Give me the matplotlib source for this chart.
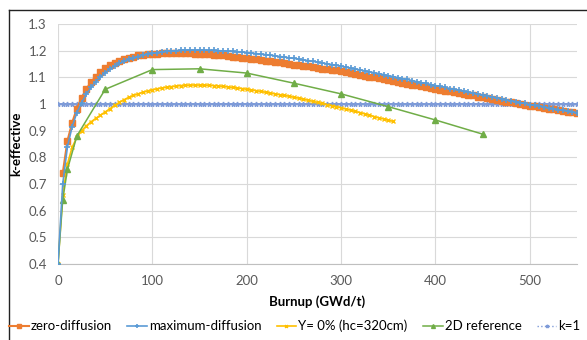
import numpy as np
import matplotlib.pyplot as plt
from matplotlib.lines import Line2D

# burnup grids (GWd/t)
zero_x = np.arange(5, 555, 5)
max_x = np.arange(0, 555, 5)
y0_x = np.arange(0, 360, 5)
ref_x = [0, 5, 10, 20, 50, 100, 150, 200, 250, 300, 350, 400, 450]
k1_x = np.arange(0, 555, 5)

zero_diff = [
    0.740, 0.862, 0.930, 0.983, 1.024, 1.056, 1.082, 1.103, 1.120, 1.134,
    1.146, 1.155, 1.163, 1.169, 1.174, 1.178, 1.182, 1.184, 1.186, 1.188,
    1.189, 1.190, 1.190, 1.191, 1.191, 1.191, 1.190, 1.190, 1.189, 1.188,
    1.187, 1.186, 1.185, 1.183, 1.182, 1.180, 1.178, 1.176, 1.174, 1.172,
    1.170, 1.168, 1.166, 1.163, 1.161, 1.158, 1.156, 1.153, 1.151, 1.148,
    1.146, 1.143, 1.141, 1.138, 1.136, 1.133, 1.131, 1.128, 1.126, 1.123,
    1.120, 1.116, 1.113, 1.110, 1.106, 1.103, 1.100, 1.096, 1.093, 1.090,
    1.086, 1.083, 1.080, 1.076, 1.073, 1.070, 1.066, 1.063, 1.060, 1.057,
    1.054, 1.050, 1.047, 1.044, 1.041, 1.038, 1.035, 1.032, 1.028, 1.025,
    1.022, 1.019, 1.016, 1.012, 1.009, 1.006, 1.003, 1.000, 0.997, 0.994,
    0.991, 0.988, 0.985, 0.983, 0.980, 0.977, 0.974, 0.971, 0.969, 0.966]

max_diff = [
    0.400,
    0.700, 0.840, 0.915, 0.968, 1.005, 1.036, 1.062, 1.084, 1.102, 1.117,
    1.131, 1.142, 1.152, 1.160, 1.167, 1.173, 1.178, 1.183, 1.187, 1.190,
    1.193, 1.195, 1.197, 1.199, 1.200, 1.201, 1.202, 1.202, 1.202, 1.202,
    1.202, 1.201, 1.201, 1.200, 1.199, 1.198, 1.197, 1.196, 1.195, 1.193,
    1.191, 1.189, 1.187, 1.185, 1.183, 1.181, 1.178, 1.176, 1.173, 1.171,
    1.168, 1.165, 1.163, 1.160, 1.157, 1.154, 1.151, 1.148, 1.145, 1.142,
    1.138, 1.135, 1.131, 1.128, 1.124, 1.121, 1.117, 1.114, 1.110, 1.106,
    1.103, 1.099, 1.095, 1.092, 1.088, 1.084, 1.080, 1.077, 1.073, 1.069,
    1.066, 1.062, 1.058, 1.055, 1.051, 1.048, 1.044, 1.040, 1.037, 1.033,
    1.030, 1.026, 1.023, 1.019, 1.016, 1.012, 1.009, 1.005, 1.002, 0.998,
    0.995, 0.992, 0.989, 0.985, 0.982, 0.979, 0.976, 0.973, 0.970, 0.967]

y0_hc320 = [
    0.400,
    0.660, 0.775, 0.838, 0.875, 0.900, 0.918, 0.933, 0.946, 0.958, 0.970,
    0.982, 0.995, 1.006, 1.016, 1.025, 1.032, 1.038, 1.044, 1.049, 1.053,
    1.057, 1.060, 1.063, 1.065, 1.067, 1.069, 1.070, 1.071, 1.071, 1.071,
    1.071, 1.070, 1.069, 1.068, 1.066, 1.064, 1.062, 1.060, 1.058, 1.055,
    1.053, 1.050, 1.047, 1.044, 1.041, 1.038, 1.035, 1.032, 1.029, 1.025,
    1.022, 1.018, 1.014, 1.010, 1.006, 1.002, 0.998, 0.994, 0.990, 0.986,
    0.981, 0.977, 0.972, 0.968, 0.963, 0.958, 0.953, 0.948, 0.944, 0.939,
    0.935]

ref_2d = [0.400, 0.640, 0.755, 0.880, 1.055, 1.129, 1.132, 1.116, 1.078,
          1.038, 0.990, 0.940, 0.887]

k1 = [1.0] * len(k1_x)

plt.rcParams['font.family'] = ['Lato', 'DejaVu Sans']

fig = plt.figure(figsize=(5.87, 3.40), dpi=100)
ax = fig.add_axes([58 / 587, 1 - 264 / 340, 519 / 587, 240 / 340])

ax.plot(zero_x, zero_diff, color='#ED7D31', marker='s', ms=4.5, lw=1.5,
        label='zero-diffusion', zorder=3)
ax.plot(max_x, max_diff, color='#5B9BD5', marker='+', ms=5, mew=1.2, lw=1.2,
        label='maximum-diffusion', zorder=4)
ax.plot(y0_x, y0_hc320, color='#FFC000', marker='x', ms=3, mew=1, lw=1.2,
        label='Y= 0% (hc=320cm)', zorder=3)
ax.plot(ref_x, ref_2d, color='#70AD47', marker='^', ms=4, lw=1.1,
        label='2D reference', zorder=3)
ax.plot(k1_x, k1, color='#7E9BD8', marker='*', ms=3.5, lw=1, ls=':',
        label='k=1', zorder=2)

ax.set_xlim(0, 550)
ax.set_ylim(0.4, 1.3)
ax.set_xticks([0, 100, 200, 300, 400, 500])
ax.set_yticks([0.4, 0.5, 0.6, 0.7, 0.8, 0.9, 1.0, 1.1, 1.2, 1.3])
ax.set_yticklabels(['0.4', '0.5', '0.6', '0.7', '0.8', '0.9', '1', '1.1', '1.2', '1.3'])
ax.grid(True, color='#D9D9D9', lw=0.8)
ax.set_axisbelow(True)
for s in ['top', 'right', 'left']:
    ax.spines[s].set_visible(False)
ax.spines['bottom'].set_color('#BFBFBF')
ax.tick_params(length=0, labelsize=9.5, colors='#595959', pad=8)

ax.set_xlabel('Burnup (GWd/t)', fontsize=9.5, fontweight='bold', labelpad=6)
ax.set_ylabel('k-effective', fontsize=9.5, fontweight='bold', labelpad=4)

fig.legend(loc='center', bbox_to_anchor=(0.502, 1 - 326 / 340), ncol=5,
           frameon=False, fontsize=9.5, handlelength=1.5, handletextpad=0.15,
           columnspacing=1.15, markerscale=0.7, borderaxespad=0, borderpad=0)

# outer chart frame
fig.add_artist(Line2D([9 / 587, 1], [1 - 10 / 340, 1 - 10 / 340],
                      transform=fig.transFigure, color='#222222', lw=1))
fig.add_artist(Line2D([9 / 587, 9 / 587], [0, 1 - 10 / 340],
                      transform=fig.transFigure, color='#222222', lw=1))

fig.savefig('out.png', dpi=100)
